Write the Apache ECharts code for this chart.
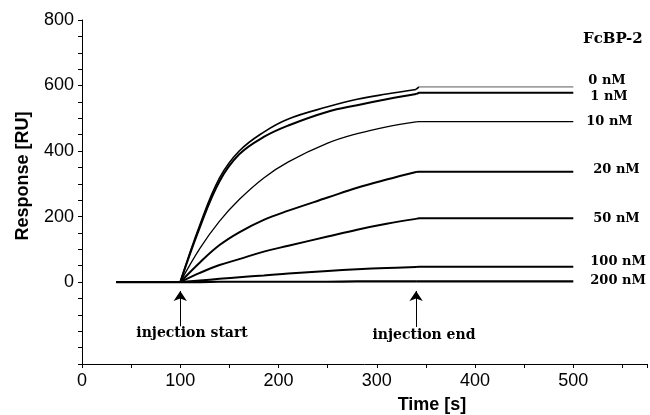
<!DOCTYPE html>
<html>
<head>
<meta charset="utf-8">
<script src="https://cdn.jsdelivr.net/npm/echarts@6/dist/echarts.min.js"></script>
<style>
  html, body { margin: 0; padding: 0; background: #fff; }
  #main { width: 650px; height: 415px; }
</style>
</head>
<body>
<div id="main"></div>
<script>
// time points (s) and responses (RU)
var times = [35, 100, 120, 140, 160, 185, 210, 250, 280, 310, 340, 343, 500];
var r0   = [0, 0, 175, 318, 400, 458, 498, 535, 558, 574, 588, 596, 596];
var r1   = [0, 0, 168, 308, 390, 443, 478, 520, 540, 558, 574, 578, 578];
var r10  = [0, 0, 103, 186, 252, 318, 367, 424, 453, 474, 489, 490, 490];
var r20  = [0, 0, 60, 113, 152, 190, 218, 258, 288, 313, 336, 337, 337];
var r50  = [0, 0, 28, 52, 70, 93, 111, 139, 160, 178, 193, 195, 195];
var r100 = [0, 0, 5, 10, 15, 20, 26, 34, 39, 43, 46, 47, 47];
var r200 = [0, 0, 0, 1, 1, 1, 1, 1, 2, 2, 2, 2, 2];

var seriesNames = ['0 nM', '1 nM', '10 nM', '20 nM', '50 nM', '100 nM', '200 nM'];
var seriesValues = [r0, r1, r10, r20, r50, r100, r200];

// injection marks: start / end time
var injStart = 100, injEnd = 340;

// label tweaks (px) so the end labels sit like the original
var labelOffsets = [[15, -6], [17, 4], [13, 0], [20, -2], [20, 0], [17, -5], [17, -1]];
var lineWidths = [1.6, 2, 1.3, 2, 2, 2, 2.2];

var myChart = echarts.init(document.getElementById('main'));

function pairs(vals, from, to) {
    var out = [];
    times.forEach(function (t, k) {
        if (t >= from && t <= to) out.push([t, vals[k]]);
    });
    return out;
}

function endLabel(i) {
    return {
        show: true,
        formatter: seriesNames[i],
        color: '#000',
        fontFamily: 'DejaVu Serif',
        fontWeight: 'bold',
        fontSize: 13,
        distance: 0,
        offset: labelOffsets[i]
    };
}

var series = [];
seriesValues.forEach(function (vals, i) {
    var base = {
        name: seriesNames[i],
        type: 'line',
        showSymbol: false,
        animation: false,
        lineStyle: { color: '#000', width: lineWidths[i] },
        z: 10 - i
    };
    // baseline before injection
    series.push(Object.assign({}, base, { data: pairs(vals, 0, injStart) }));
    // association phase (curved)
    series.push(Object.assign({}, base, { data: pairs(vals, injStart, injEnd), smooth: 0.4 }));
    // dissociation phase (flat); top trace is drawn grey there
    var diss = Object.assign({}, base, { data: pairs(vals, injEnd, 1000), endLabel: endLabel(i) });
    if (i === 0) {
        series.push(Object.assign({}, base, { data: pairs(vals, injEnd, 343) }));
        diss.data = pairs(vals, 343, 1000);
        diss.lineStyle = { color: '#a0a0a0', width: lineWidths[i] };
    }
    series.push(diss);
});

// arrows + texts for injection start / end
series.push({
    name: 'injection',
    type: 'line',
    data: [],
    markLine: {
        silent: true,
        animation: false,
        symbol: ['none', 'arrow'],
        symbolSize: 10,
        label: { show: false },
        lineStyle: { color: '#000', width: 1, type: 'solid' },
        data: [
            [{ coord: [injStart, -135] }, { coord: [injStart, -27] }],
            [{ coord: [injEnd, -137] }, { coord: [injEnd, -27] }]
        ]
    },
    markPoint: {
        silent: true,
        animation: false,
        symbol: 'circle',
        symbolSize: 0,
        label: {
            show: true,
            position: 'inside',
            formatter: '{b}',
            color: '#000',
            fontFamily: 'DejaVu Serif',
            fontWeight: 'bold',
            fontSize: 14
        },
        data: [
            { name: 'injection start', coord: [112, -156] },
            { name: 'injection end', coord: [348, -162] }
        ]
    }
});

var option = {
    backgroundColor: '#fff',
    animation: false,
    title: {
        text: 'FcBP-2',
        left: 583,
        top: 32,
        padding: 0,
        textStyle: { fontFamily: 'DejaVu Serif', fontWeight: 'bold', fontSize: 15, color: '#000' }
    },
    grid: { left: 82, top: 20, right: 1, bottom: 51, containLabel: false },
    xAxis: {
        type: 'value',
        min: 0,
        max: 575,
        interval: 50,
        axisLine: { onZero: false, lineStyle: { color: '#000', width: 1 } },
        axisTick: { show: true, length: 4, inside: false, lineStyle: { color: '#000' } },
        axisLabel: {
            color: '#000',
            fontFamily: 'Liberation Sans',
            fontSize: 18,
            margin: 8,
            formatter: function (v) { return v % 100 === 0 ? String(v) : ''; }
        },
        splitLine: { show: false }
    },
    yAxis: {
        type: 'value',
        min: -250,
        max: 800,
        interval: 50,
        axisLine: { show: true, onZero: false, lineStyle: { color: '#000', width: 1 } },
        axisTick: { show: true, length: 4, inside: false, lineStyle: { color: '#000' } },
        axisLabel: {
            color: '#000',
            fontFamily: 'Liberation Sans',
            fontSize: 18,
            margin: 8,
            formatter: function (v) { return (v >= 0 && v % 200 === 0) ? String(v) : ''; }
        },
        splitLine: { show: false }
    },
    graphic: [
        {
            type: 'text',
            x: 23, y: 176,
            rotation: Math.PI / 2,
            style: {
                text: 'Response [RU]',
                font: 'bold 18px "Liberation Sans"',
                fill: '#000',
                align: 'center',
                verticalAlign: 'middle'
            }
        },
        {
            type: 'text',
            x: 432, y: 405,
            style: {
                text: 'Time [s]',
                font: 'bold 18px "Liberation Sans"',
                fill: '#000',
                align: 'center',
                verticalAlign: 'middle'
            }
        }
    ],
    series: series
};

myChart.setOption(option);
</script>
</body>
</html>
